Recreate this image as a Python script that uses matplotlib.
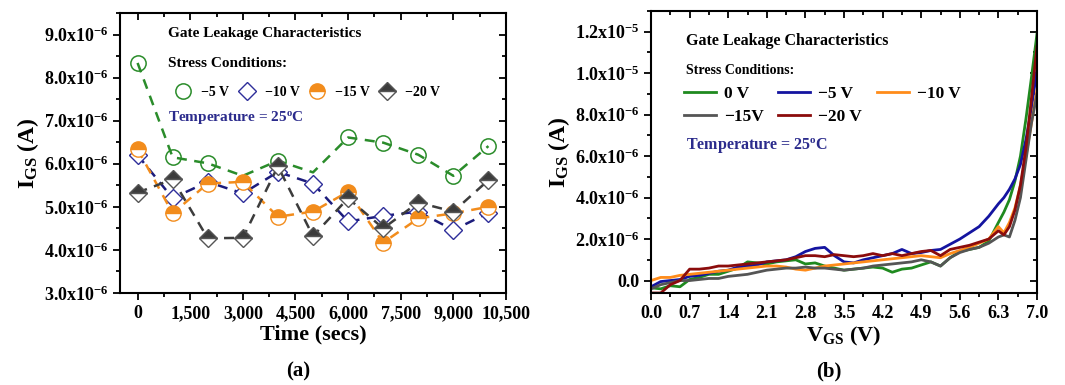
import numpy as np
import matplotlib
matplotlib.use("Agg")
import matplotlib.pyplot as plt
from matplotlib.ticker import MultipleLocator, FuncFormatter
from matplotlib.lines import Line2D

plt.rcParams['font.family'] = ['Liberation Serif', 'DejaVu Serif']
plt.rcParams['font.weight'] = 'bold'
plt.rcParams['mathtext.fontset'] = 'custom'
plt.rcParams['mathtext.rm'] = 'Liberation Serif:bold'
plt.rcParams['mathtext.bf'] = 'Liberation Serif:bold'
plt.rcParams['mathtext.it'] = 'Liberation Serif:bold'

# ---- (a) gate leakage vs stress time ----
time_s = [0, 1000, 2000, 3000, 4000, 5000, 6000, 7000, 8000, 9000, 10000]
ig_5v = [8.34, 6.15, 6.01, 5.72, 6.07, 5.80, 6.61, 6.49, 6.21, 5.72, 6.41]
ig_10v = [6.20, 5.20, 5.58, 5.31, 5.81, 5.54, 4.66, 4.79, 4.89, 4.46, 4.86]
ig_15v = [6.34, 4.85, 5.54, 5.58, 4.77, 4.89, 5.35, 4.17, 4.73, 4.85, 5.00]
ig_20v = [5.33, 5.64, 4.27, 4.28, 5.94, 4.32, 5.20, 4.50, 5.10, 4.89, 5.62]

# ---- (b) I-V curves after stress (uA) ----
vgs = [0.0, 0.175, 0.35, 0.525, 0.7, 0.875, 1.05, 1.225, 1.4, 1.575, 1.75, 1.925,
       2.1, 2.275, 2.45, 2.625, 2.8, 2.975, 3.15, 3.325, 3.5, 3.675, 3.85, 4.025,
       4.2, 4.375, 4.55, 4.725, 4.9, 5.075, 5.25, 5.425, 5.6, 5.775, 5.95, 6.125,
       6.3, 6.4, 6.5, 6.6, 6.7, 6.8, 6.9, 7.0]
iv_0v = [-0.35, -0.4, -0.25, -0.3, 0.05, 0.15, 0.3, 0.3, 0.45, 0.6, 0.9, 0.85,
         0.8, 0.9, 0.95, 1.0, 0.8, 0.85, 0.7, 0.6, 0.5, 0.55, 0.6, 0.65,
         0.6, 0.4, 0.55, 0.6, 0.75, 0.9, 0.7, 1.1, 1.4, 1.5, 1.6, 1.9,
         2.8, 3.3, 3.9, 4.8, 6.0, 7.8, 9.8, 11.9]
iv_5v = [-0.3, -0.05, 0.0, 0.05, 0.2, 0.25, 0.35, 0.45, 0.5, 0.65, 0.7, 0.75,
         0.9, 0.95, 1.0, 1.15, 1.4, 1.55, 1.6, 1.2, 0.9, 0.85, 1.0, 1.1,
         1.2, 1.3, 1.5, 1.3, 1.35, 1.45, 1.5, 1.75, 2.0, 2.3, 2.6, 3.1,
         3.7, 4.0, 4.4, 4.9, 5.6, 6.8, 8.3, 10.2]
iv_10v = [0.0, 0.15, 0.15, 0.25, 0.3, 0.35, 0.4, 0.45, 0.5, 0.55, 0.6, 0.65,
          0.7, 0.7, 0.65, 0.55, 0.5, 0.6, 0.7, 0.75, 0.8, 0.85, 0.9, 0.95,
          1.0, 1.05, 1.1, 1.15, 1.2, 1.15, 1.1, 1.3, 1.45, 1.6, 1.8, 2.0,
          2.6, 2.3, 2.8, 3.5, 4.6, 6.0, 7.6, 9.2]
iv_15v = [-0.4, -0.2, -0.1, 0.0, 0.0, 0.05, 0.1, 0.1, 0.2, 0.25, 0.3, 0.4,
          0.5, 0.55, 0.6, 0.6, 0.65, 0.6, 0.6, 0.55, 0.5, 0.55, 0.6, 0.7,
          0.75, 0.8, 0.85, 0.9, 1.0, 0.9, 0.7, 1.1, 1.35, 1.5, 1.6, 1.8,
          2.1, 2.2, 2.1, 2.9, 4.0, 5.8, 7.6, 9.0]
iv_20v = [-0.6, -0.6, -0.2, 0.0, 0.55, 0.55, 0.6, 0.7, 0.7, 0.75, 0.8, 0.85,
          0.9, 0.95, 1.0, 1.1, 1.2, 1.2, 1.15, 1.25, 1.2, 1.15, 1.2, 1.3,
          1.2, 1.3, 1.2, 1.3, 1.4, 1.45, 1.2, 1.5, 1.6, 1.7, 1.85, 2.0,
          2.4, 2.2, 2.6, 3.4, 4.6, 6.4, 8.8, 11.3]


def sci_label(v, pos):
    if abs(v) < 1e-12:
        return '0.0'
    e = int(np.floor(np.log10(abs(v)) + 1e-9))
    return f'{v / 10**e:.1f}x10$^{{{e}}}$'


def style_axes(ax):
    for s in ax.spines.values():
        s.set_linewidth(1.5)
    ax.tick_params(which='both', width=1.3, labelsize=13)
    ax.tick_params(which='major', length=5)
    ax.tick_params(which='minor', length=3)
    ax.tick_params(which='both', top=True, right=True, labeltop=False, labelright=False)
    ax.yaxis.set_major_formatter(FuncFormatter(sci_label))
    # top/right ticks point inward
    for t in ax.xaxis.get_major_ticks() + ax.xaxis.get_minor_ticks():
        t.tick2line.set_marker(3)
    for t in ax.yaxis.get_major_ticks() + ax.yaxis.get_minor_ticks():
        t.tick2line.set_marker(0)


fig = plt.figure(figsize=(10.65, 3.85), dpi=100)
ax1 = fig.add_axes([0.1127, 0.239, 0.3624, 0.7273])
ax2 = fig.add_axes([0.6113, 0.239, 0.3624, 0.7325])

t = np.array(time_s)
dash = (0, (4, 3))
ax1.plot(t, np.array(ig_5v) * 1e-6, ls=dash, lw=1.8, color='#2a8c2a', marker='o', ms=11,
         mfc='none', mec='#2a8c2a', mew=1.1, markevery=[0, 1, 2, 4, 6, 7, 8, 9, 10], zorder=3)
ax1.plot(t, np.array(ig_10v) * 1e-6, ls=dash, lw=1.8, color='#1c1c7c', marker='D', ms=9,
         mfc='white', mec='#2e2e9a', mew=1.0, zorder=4)
ax1.plot(t, np.array(ig_15v) * 1e-6, ls=dash, lw=1.8, color='#f28c1c', marker='o', ms=11,
         fillstyle='top', mfc='#f28c1c', mfcalt='white', mec='#f28c1c', mew=1.0, zorder=5)
ax1.plot(t, np.array(ig_20v) * 1e-6, ls=dash, lw=1.8, color='#3c3c3c', marker='D', ms=9,
         fillstyle='top', mfc='#3c3c3c', mfcalt='white', mec='#555555', mew=1.0, zorder=6)

ax1.set_xlim(-500, 10500)
ax1.set_ylim(3e-6, 9.5e-6)
ax1.xaxis.set_major_locator(MultipleLocator(1500))
ax1.xaxis.set_minor_locator(MultipleLocator(750))
ax1.yaxis.set_major_locator(MultipleLocator(1e-6))
ax1.yaxis.set_minor_locator(MultipleLocator(0.5e-6))
ax1.xaxis.set_major_formatter(FuncFormatter(lambda v, p: f'{int(round(v)):,}'))
style_axes(ax1)
ax1.set_xlabel('Time (secs)', fontsize=16, fontweight='bold', labelpad=2)
ax1.set_ylabel('I$_{GS}$ (A)', fontsize=17, fontweight='bold', labelpad=2)

ax1.text(0.125, 0.925, 'Gate Leakage Characteristics', transform=ax1.transAxes,
         fontsize=11, va='center')
ax1.text(0.125, 0.82, 'Stress Conditions:', transform=ax1.transAxes,
         fontsize=11, va='center')
ax1.text(0.125, 0.625, 'Temperature = 25$^{o}$C', transform=ax1.transAxes,
         fontsize=11, va='center', color='#2b2b8c')
h1 = [Line2D([], [], ls='none', marker='o', ms=11, mfc='none', mec='#2a8c2a', mew=1.1),
      Line2D([], [], ls='none', marker='D', ms=9, mfc='white', mec='#2e2e9a', mew=1.0),
      Line2D([], [], ls='none', marker='o', ms=11, fillstyle='top', mfc='#f28c1c',
             mfcalt='white', mec='#f28c1c', mew=1.0),
      Line2D([], [], ls='none', marker='D', ms=9, fillstyle='top', mfc='#3c3c3c',
             mfcalt='white', mec='#555555', mew=1.0)]
ax1.legend(h1, ['\u22125 V', '\u221210 V', '\u221215 V', '\u221220 V'], ncol=4,
           loc='center left', bbox_to_anchor=(0.142, 0.715), frameon=False,
           fontsize=10, handlelength=1.2, handletextpad=0.7, columnspacing=0.65,
           borderpad=0, borderaxespad=0)

v = np.array(vgs)
series = [(iv_0v, '#1f8a1f', '0 V'), (iv_5v, '#1414a0', '\u22125 V'),
          (iv_10v, '#ff8c1a', '\u221210 V'), (iv_15v, '#555555', '\u221215V'),
          (iv_20v, '#8b0c0c', '\u221220 V')]
lines = {}
for vals, c, lab in series:
    lines[lab], = ax2.plot(v, np.array(vals) * 1e-6, color=c, lw=2, label=lab)

ax2.set_xlim(0, 7.0)
ax2.set_ylim(-0.6e-6, 1.3e-5)
ax2.xaxis.set_major_locator(MultipleLocator(0.7))
ax2.xaxis.set_minor_locator(MultipleLocator(0.35))
ax2.yaxis.set_major_locator(MultipleLocator(2e-6))
ax2.yaxis.set_minor_locator(MultipleLocator(1e-6))
ax2.xaxis.set_major_formatter(FuncFormatter(lambda x, p: f'{x:.1f}'))
style_axes(ax2)
ax2.set_xlabel('V$_{GS}$ (V)', fontsize=16, fontweight='bold', labelpad=2)
ax2.set_ylabel('I$_{GS}$ (A)', fontsize=17, fontweight='bold', labelpad=2)

ax2.text(0.09, 0.895, 'Gate Leakage Characteristics', transform=ax2.transAxes,
         fontsize=11.5, va='center')
ax2.text(0.09, 0.79, 'Stress Conditions:', transform=ax2.transAxes,
         fontsize=10, va='center')
ax2.text(0.09, 0.52, 'Temperature = 25$^{o}$C', transform=ax2.transAxes,
         fontsize=11.5, va='center', color='#2b2b8c')
# row-wise legend order: 0, -5, -10 / -15, -20
order = ['0 V', '\u221215V', '\u22125 V', '\u221220 V', '\u221210 V']
ax2.legend([lines[k] for k in order], order, ncol=3, loc='upper left',
           bbox_to_anchor=(0.085, 0.735), frameon=False,
           fontsize=12.5, handlelength=1.85, handletextpad=0.45, columnspacing=0.85,
           labelspacing=0.4, borderpad=0, borderaxespad=0)

fig.text(0.28, 0.035, '(a)', fontsize=15, fontweight='bold', ha='center', va='center')
fig.text(0.778, 0.035, '(b)', fontsize=15, fontweight='bold', ha='center', va='center')

fig.savefig('out.png', dpi=100)
